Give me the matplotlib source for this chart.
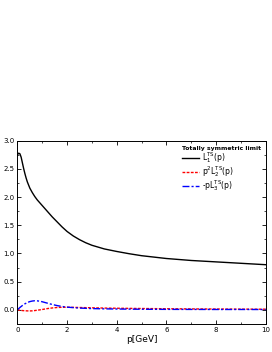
import matplotlib
matplotlib.use("Agg")
import matplotlib.pyplot as plt
from matplotlib.ticker import MultipleLocator, FormatStrFormatter

p1 = [0.0, 0.05, 0.1, 0.15, 0.2, 0.25, 0.3, 0.35, 0.4, 0.5, 0.6, 0.7, 0.8, 0.9, 1.0, 1.2, 1.4, 1.6, 1.8, 2.0, 2.25, 2.5, 2.75, 3.0, 3.5, 4.0, 4.5, 5.0, 6.0, 7.0, 8.0, 9.0, 10.0]
L1 = [2.75, 2.78, 2.77, 2.71, 2.61, 2.51, 2.42, 2.34, 2.27, 2.16, 2.08, 2.01, 1.95, 1.90, 1.85, 1.75, 1.65, 1.56, 1.47, 1.39, 1.31, 1.245, 1.19, 1.145, 1.08, 1.035, 0.995, 0.96, 0.91, 0.875, 0.85, 0.825, 0.80]

p2 = [0.0, 0.1, 0.2, 0.3, 0.4, 0.5, 0.6, 0.7, 0.8, 0.9, 1.0, 1.2, 1.4, 1.6, 1.8, 2.0, 2.5, 3.0, 3.5, 4.0, 5.0, 6.0, 7.0, 8.0, 9.0, 10.0]
L2 = [0.0, -0.008, -0.014, -0.018, -0.02, -0.021, -0.019, -0.014, -0.008, -0.002, 0.005, 0.02, 0.032, 0.04, 0.044, 0.045, 0.04, 0.035, 0.03, 0.027, 0.022, 0.018, 0.015, 0.013, 0.011, 0.01]
L3 = [0.0, 0.04, 0.075, 0.105, 0.128, 0.145, 0.155, 0.16, 0.158, 0.152, 0.142, 0.118, 0.094, 0.074, 0.058, 0.046, 0.03, 0.021, 0.016, 0.013, 0.009, 0.007, 0.006, 0.005, 0.005, 0.004]

fig = plt.figure(figsize=(2.72, 3.52), dpi=100)
ax = fig.add_axes([0.064, 0.08, 0.913, 0.52])
ax.plot(p1, L1, color='black', lw=1.0, label=r'L$_1^{\rm TS}$(p)')
ax.plot(p2, L2, color='red', lw=1.0, ls=(0, (2, 1)), label=r'p$^2$L$_2^{\rm TS}$(p)')
ax.plot(p2, L3, color='blue', lw=1.0, ls=(0, (5, 1.5, 1.5, 1.5)), label=r'-pL$_3^{\rm TS}$(p)')
ax.set_xlim(0, 10)
ax.set_ylim(-0.25, 3.0)
ax.xaxis.set_major_locator(MultipleLocator(2))
ax.xaxis.set_minor_locator(MultipleLocator(1))
ax.yaxis.set_major_locator(MultipleLocator(0.5))
ax.yaxis.set_minor_locator(MultipleLocator(0.25))
ax.yaxis.set_major_formatter(FormatStrFormatter('%.1f'))
ax.tick_params(which='both', direction='in', top=True, right=True, labelsize=5, pad=2)
ax.tick_params(which='major', length=3, width=0.6)
ax.tick_params(which='minor', length=1.5, width=0.5)
ax.set_xlabel('p[GeV]', fontsize=6.5, labelpad=2)
for s in ax.spines.values():
    s.set_linewidth(0.7)
leg = ax.legend(loc='upper right', fontsize=5.5, frameon=False, title='Totally symmetric limit',
                title_fontproperties={'size': 4.4, 'weight': 'bold'}, handlelength=2.3,
                borderaxespad=0.25, labelspacing=-0.1, handletextpad=0.4)
leg._legend_box.align = "left"
fig.savefig('out.png', dpi=100)
